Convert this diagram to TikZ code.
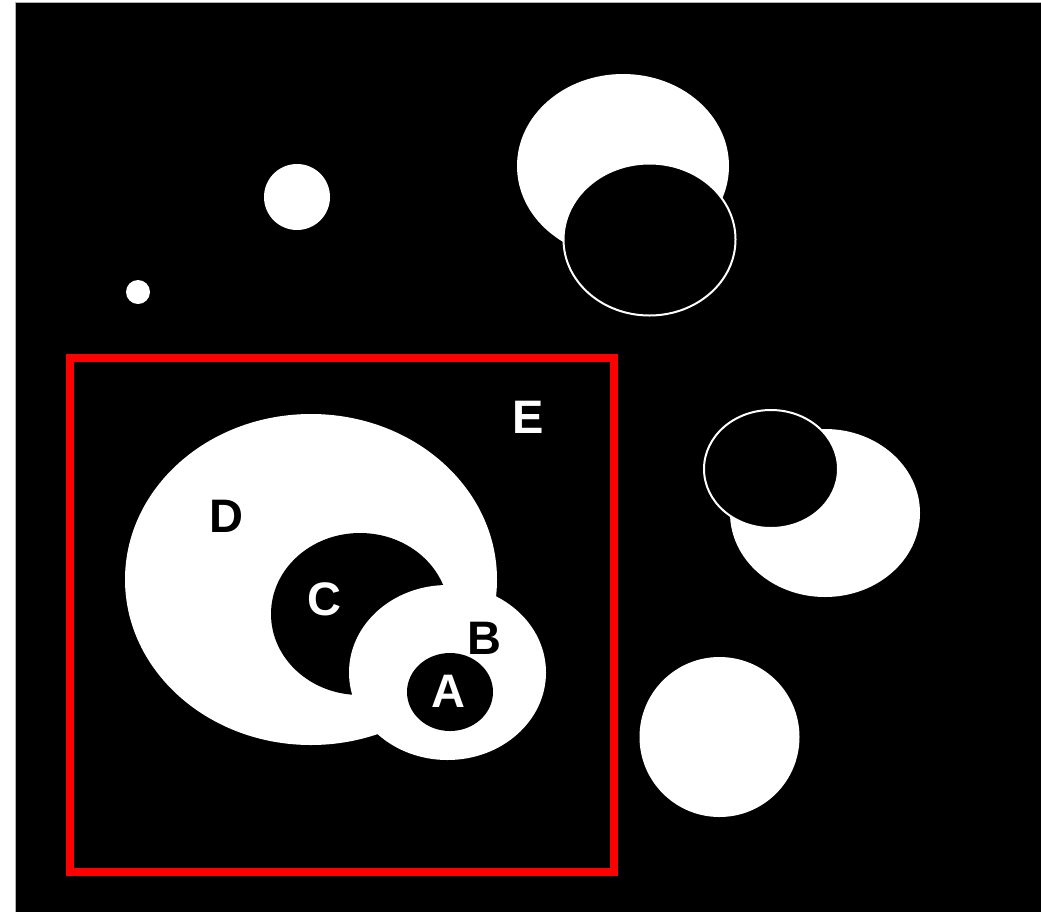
\documentclass[tikz,border=0pt]{standalone}
\usepackage{fontspec}
\setsansfont{Liberation Sans}

\tikzstyle{blob}=[fill=white]
\tikzstyle{hole}=[fill=black]
\tikzstyle{rim}=[fill=black, draw=white, line width=2pt]
\tikzstyle{region}=[draw=red, line width=8pt]
\tikzstyle{tag}=[font=\sffamily\bfseries\fontsize{47}{47}\selectfont, inner sep=0pt]

\begin{document}
\begin{tikzpicture}[x=1pt, y=-1pt]
					\useasboundingbox (0,0) rectangle (1041,911);
					% Background
					\fill[white] (0,0) rectangle (1041,911);
					\fill[black, draw=gray!60, line width=1pt] (15,2) rectangle (1043,913);

					% Loose blobs
					\fill[blob] (138,292) circle (12);
					\fill[blob] (297,197) circle (33);
					\fill[blob] (623,166) ellipse (106 and 92);
					\filldraw[rim] (649.5,239.5) ellipse (86 and 76);
					\fill[blob] (825,513) ellipse (95 and 84);
					\filldraw[rim] (771,469) ellipse (67 and 59);
					\fill[blob] (719.5,737) circle (80);

					% Nested regions
					\fill[blob] (311,579.5) ellipse (186 and 165.5);
					\fill[hole] (360,614) ellipse (89 and 81);
					\fill[blob] (447.5,672.5) ellipse (98.5 and 87.5);
					\fill[hole] (450,692) ellipse (43 and 39);
					\draw[region] (69.5,358) rectangle (613.5,871.5);

					\node[tag, text=black] (d) at (226,516) {D};
					\node[tag, text=white] (c) at (324,599) {C};
					\node[tag, text=black] (b) at (484,638) {B};
					\node[tag, text=white] (a) at (448,691) {A};
					\node[tag, text=white] (e) at (528,417.5) {E};
\end{tikzpicture}
\end{document}
